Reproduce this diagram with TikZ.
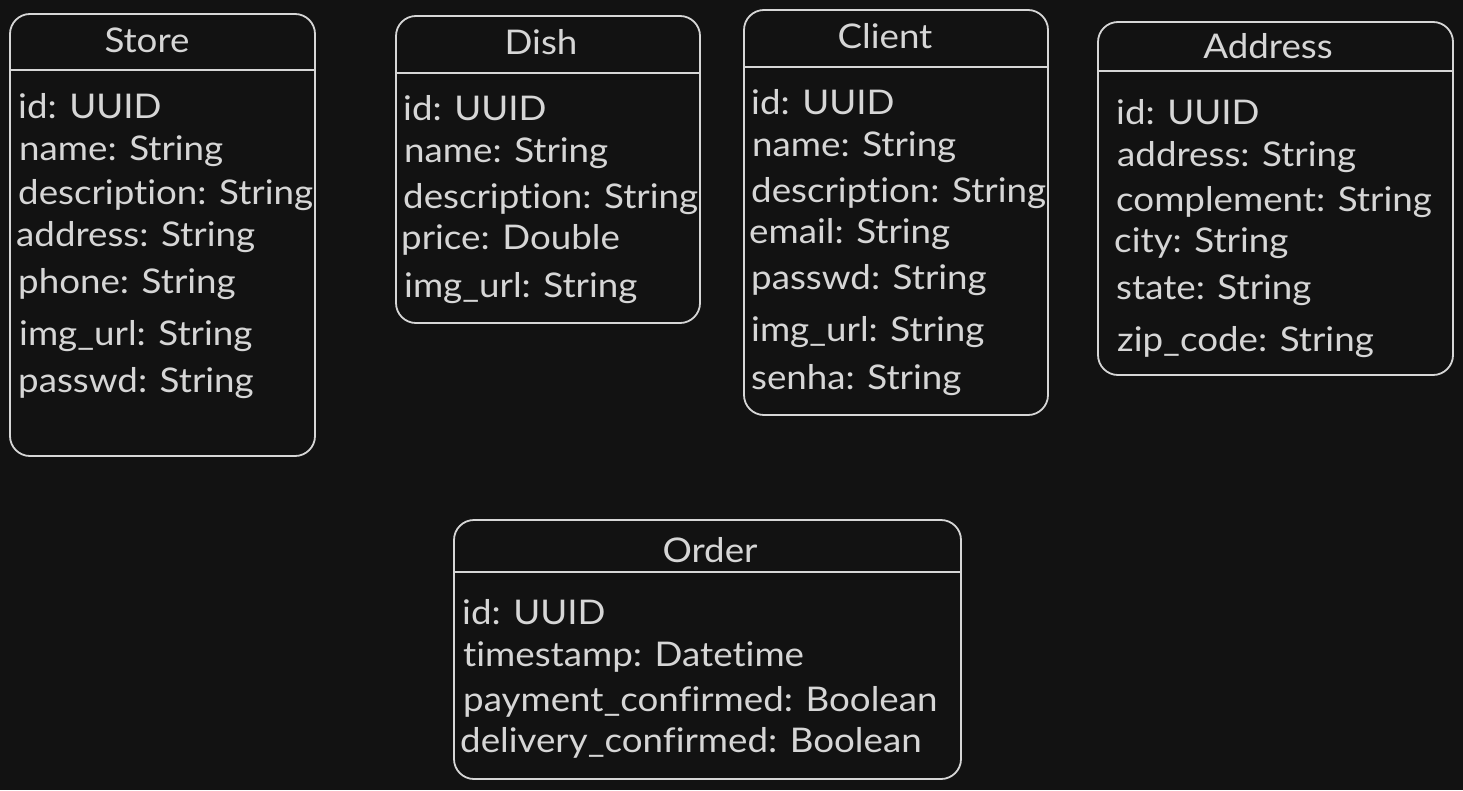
\documentclass[tikz,border=0pt]{standalone}
\usepackage{fontspec}
\setmainfont{Lato}[FakeStretch=1.08, Ligatures={NoCommon,NoRequired,NoContextual}]
\definecolor{bg}{HTML}{121212}
\definecolor{ink}{HTML}{D6D6D6}
\begin{document}
\begin{tikzpicture}[x=1pt,y=-1pt,
  box/.style={draw=ink, line width=1.8pt, rounded corners=20pt, inner sep=0pt},
  hdr/.style={draw=ink, line width=1.8pt},
  field/.style={anchor=base west, inner sep=0pt, text=ink, font=\fontsize{34}{40}\selectfont},
  ttl/.style={anchor=base, inner sep=0pt, text=ink, font=\fontsize{34}{40}\selectfont}]
\fill[bg] (0,0) rectangle (1463,790);
\useasboundingbox (0,0) rectangle (1463,790);
% Store
\node[box, minimum width=305pt, minimum height=442pt] (store) at (162.5,235) {};
\draw[hdr] (store.west |- 0,70) -- (store.east |- 0,70);
\node[ttl] (store-t) at (147,52) {Store};
\node[field] (store-1) at (18,118) {id: UUID};
\node[field] (store-2) at (19,160) {name: String};
\node[field] (store-3) at (18,204) {description: String};
\node[field] (store-4) at (16,246) {address: String};
\node[field] (store-5) at (18,293) {phone: String};
\node[field] (store-6) at (19,345) {img\_url: String};
\node[field] (store-7) at (18,392) {passwd: String};
% Dish
\node[box, minimum width=304pt, minimum height=307pt] (dish) at (548,169.5) {};
\draw[hdr] (dish.west |- 0,73) -- (dish.east |- 0,73);
\node[ttl] (dish-t) at (541,54) {Dish};
\node[field] (dish-1) at (403,120) {id: UUID};
\node[field] (dish-2) at (404,162) {name: String};
\node[field] (dish-3) at (403,208) {description: String};
\node[field] (dish-4) at (401,249) {price: Double};
\node[field] (dish-5) at (404,297) {img\_url: String};
% Client
\node[box, minimum width=304pt, minimum height=405pt] (client) at (896,212.5) {};
\draw[hdr] (client.west |- 0,67) -- (client.east |- 0,67);
\node[ttl] (client-t) at (885,48) {Client};
\node[field] (client-1) at (751,114) {id: UUID};
\node[field] (client-2) at (752,156) {name: String};
\node[field] (client-3) at (751,202) {description: String};
\node[field] (client-4) at (749,243) {email: String};
\node[field] (client-5) at (751,289) {passwd: String};
\node[field] (client-6) at (751,341) {img\_url: String};
\node[field] (client-7) at (751,389) {senha: String};
% Address
\node[box, minimum width=355pt, minimum height=353pt] (address) at (1275.5,198.5) {};
\draw[hdr] (address.west |- 0,71) -- (address.east |- 0,71);
\node[ttl] (address-t) at (1268,58) {Address};
\node[field] (address-1) at (1116,124) {id: UUID};
\node[field] (address-2) at (1117,166) {address: String};
\node[field] (address-3) at (1116,211) {complement: String};
\node[field] (address-4) at (1114,252) {city: String};
\node[field] (address-5) at (1116,299) {state: String};
\node[field] (address-6) at (1117,351) {zip\_code: String};
% Order
\node[box, minimum width=507pt, minimum height=259pt] (order) at (707.5,649.5) {};
\draw[hdr] (order.west |- 0,572) -- (order.east |- 0,572);
\node[ttl] (order-t) at (710,562) {Order};
\node[field] (order-1) at (462,624) {id: UUID};
\node[field] (order-2) at (463,666) {timestamp: Datetime};
\node[field] (order-3) at (463,711) {payment\_confirmed: Boolean};
\node[field] (order-4) at (460,752) {delivery\_confirmed: Boolean};
\end{tikzpicture}
\end{document}
